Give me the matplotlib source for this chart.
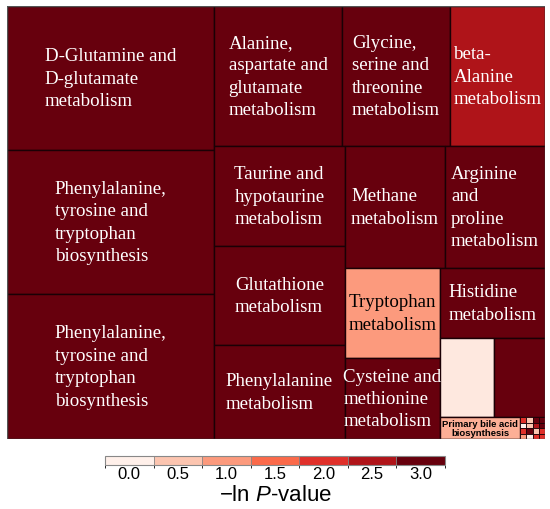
import matplotlib
matplotlib.use("Agg")
import matplotlib.pyplot as plt
from matplotlib.colors import ListedColormap, BoundaryNorm, LinearSegmentedColormap
from matplotlib.patches import Rectangle
import numpy as np

plt.rcParams["mathtext.fontset"] = "custom"
plt.rcParams["mathtext.rm"] = "Liberation Sans"
plt.rcParams["mathtext.it"] = "Liberation Sans:italic"

# ---------------- data ----------------
pathways = [
    "D-Glutamine and\nD-glutamate\nmetabolism",
    "Phenylalanine,\ntyrosine and\ntryptophan\nbiosynthesis",
    "Phenylalanine,\ntyrosine and\ntryptophan\nbiosynthesis",
    "Alanine,\naspartate and\nglutamate\nmetabolism",
    "Glycine,\nserine and\nthreonine\nmetabolism",
    "beta-\nAlanine\nmetabolism",
    "Taurine and\nhypotaurine\nmetabolism",
    "Glutathione\nmetabolism",
    "Phenylalanine\nmetabolism",
    "Methane\nmetabolism",
    "Arginine\nand\nproline\nmetabolism",
    "Tryptophan\nmetabolism",
    "Cysteine and\nmethionine\nmetabolism",
    "Histidine\nmetabolism",
    "",
    "",
    "Primary bile acid\nbiosynthesis",
]
areas = [29808, 29808, 30015, 17920, 15120, 13300, 13100, 12969, 12314,
         12200, 12200, 8550, 7695, 7350, 4266, 4029, 1760]
neg_ln_p = [3.2, 3.2, 3.2, 3.2, 3.1, 2.5, 3.2, 3.2, 3.2,
            3.2, 3.2, 1.0, 3.2, 3.2, 0.1, 3.2, 0.75]

# tiny pathways (bottom-right corner), column by column
tiny_areas = [34] * 16
tiny_values = [2.0, 0.0, 2.0, 1.0,
               0.5, 0.5, 3.0, 0.0,
               3.0, 2.5, 0.5, 2.0,
               3.0, 3.0, 2.0, 2.0]

cbar_ticks = [0.0, 0.5, 1.0, 1.5, 2.0, 2.5, 3.0]
cbar_colors = ["#fff0ea", "#fcc5b0", "#fc9a7d", "#fb6a4a",
               "#e0302a", "#b01419", "#67000d"]

# ---------------- layout (slice-and-dice tree) ----------------
all_areas = areas + tiny_areas
all_vals = neg_ln_p + tiny_values
nT = len(areas)
tiny_tree = ("h", [("v", [nT + c * 4 + r for r in range(4)]) for c in range(4)])
tree = ("h", [
    ("v", [0, 1, 2]),
    ("v", [
        ("h", [3, 4, 5]),
        ("h", [
            ("v", [6, 7, 8]),
            ("v", [
                ("h", [9, 10]),
                ("h", [
                    ("v", [11, 12]),
                    ("v", [13, ("h", [14, 15]), ("h", [16, tiny_tree])]),
                ]),
            ]),
        ]),
    ]),
])


def node_area(n):
    if isinstance(n, int):
        return all_areas[n]
    return sum(node_area(c) for c in n[1])


rects = {}


def layout(n, x, y, w, h):
    if isinstance(n, int):
        rects[n] = (x, y, w, h)
        return
    d, kids = n
    tot = node_area(n)
    pos = 0.0
    for k in kids:
        f = node_area(k) / tot
        if d == "h":
            layout(k, x + pos * w, y, f * w, h)
        else:
            layout(k, x, y + pos * h, w, f * h)
        pos += f


layout(tree, 0.0, 0.0, 1.0, 1.0)

# ---------------- drawing ----------------
fig = plt.figure(figsize=(5.5, 5.1), dpi=100)
ax = fig.add_axes([7 / 550, 70 / 510, 538 / 550, 433 / 510])
ax.set_xlim(0, 1)
ax.set_ylim(1, 0)
ax.axis("off")

cmap_cont = LinearSegmentedColormap.from_list(
    "r", list(zip(np.linspace(0, 1, 7), cbar_colors)))


def col(v):
    return cmap_cont(min(max(v, 0.0), 3.0) / 3.0)


for i, (x, y, w, h) in rects.items():
    lw = 0.6 if i >= nT else 1.0
    ax.add_patch(Rectangle((x, y), w, h, facecolor=col(all_vals[i]),
                           edgecolor="#1a0005", linewidth=lw))

for i in range(nT):
    x, y, w, h = rects[i]
    txt = pathways[i]
    if not txt:
        continue
    dark = all_vals[i] >= 1.5
    if i == 16:
        ax.text(x + w / 2, y + h / 2, txt, ha="center", va="center",
                fontsize=6.8, fontweight="bold", family="Liberation Sans",
                color="black", linespacing=1.05)
        continue
    ax.text(x + w / 2, y + h / 2, txt, ha="center", va="center",
            multialignment="left", fontsize=13.6, family="Liberation Serif",
            color="white" if dark else "black", linespacing=1.42)

ax.add_patch(Rectangle((0, 0), 1, 1, fill=False, edgecolor="#555555",
                       linewidth=1.0))

# colorbar
cax = fig.add_axes([105 / 550, 44 / 510, 340 / 550, 9 / 510])
bounds = np.arange(-0.25, 3.3, 0.5)
cmap_d = ListedColormap(cbar_colors)
norm = BoundaryNorm(bounds, cmap_d.N)
sm = plt.cm.ScalarMappable(cmap=cmap_d, norm=norm)
cb = fig.colorbar(sm, cax=cax, orientation="horizontal", ticks=cbar_ticks)
cb.ax.set_xticklabels([f"{t:.1f}" for t in cbar_ticks],
                      fontsize=12, family="Liberation Sans")
cb.ax.tick_params(length=0, pad=1)
cb.outline.set_edgecolor("#888888")
cb.outline.set_linewidth(0.8)
for b in bounds[1:-1]:
    cax.axvline(b, color="#888888", linewidth=0.6)
fig.text(275 / 550, 14 / 510, r"$-$ln $P$-value", ha="center", va="center",
         fontsize=16, family="Liberation Sans")

fig.savefig("out.png", dpi=100)
